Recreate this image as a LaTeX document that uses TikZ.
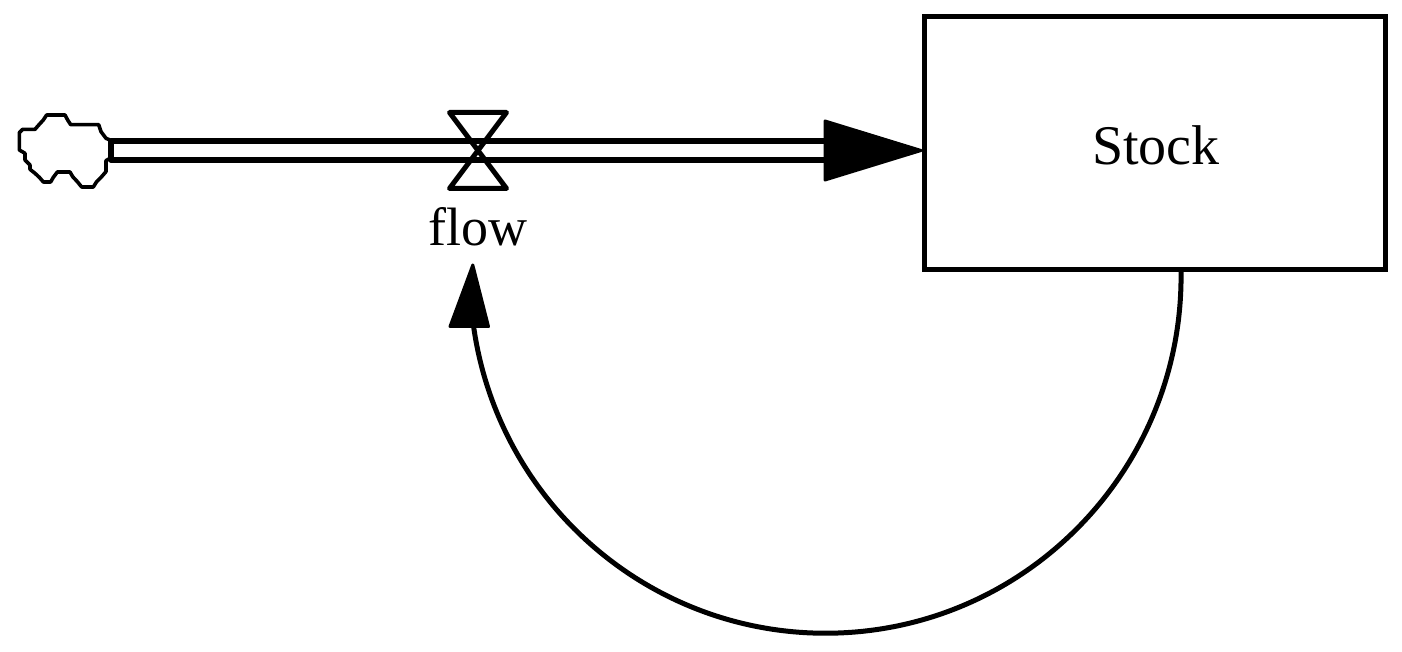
\documentclass[tikz,border=0pt]{standalone}
\usepackage{fontspec}
\setmainfont{Liberation Serif}
\tikzset{
  lbl/.style={inner sep=0pt,outer sep=0pt,font=\fontsize{54}{60}\selectfont},
  stocklbl/.style={inner sep=0pt,outer sep=0pt,font=\fontsize{56}{60}\selectfont},
  stockbox/.style={draw,line width=5pt,minimum width=461pt,minimum height=253pt,inner sep=0pt,outer sep=0pt},
  outline/.style={line width=5.5pt,line join=round},
  valveline/.style={line width=5pt,line join=round},
  headfill/.style={fill,draw,line join=round,line width=3pt}
}
\begin{document}
\begin{tikzpicture}[x=1pt,y=1pt]
\useasboundingbox (0,0) rectangle (1402,652);
\node[stockbox] (stock) at (1155,509) {};
\node[stocklbl,anchor=base] (stocktext) at (1156,487) {Stock};
\node[lbl,anchor=base] (flow) at (478,406) {flow};
\coordinate (pipeLb) at (111,492);
\coordinate (pipeLt) at (111,511);
\coordinate (pipeRb) at (826,492);
\coordinate (pipeRt) at (826,511);
\coordinate (valve) at (478,501.5);
\coordinate (headA) at (825,531);
\coordinate (headB) at (825,472);
\coordinate (headTip) at (921,501.5);
\coordinate (fbStart) at (1181,382);
\coordinate (fbL) at (450,325.5);
\coordinate (fbR) at (488.5,325.5);
\coordinate (fbTip) at (472.8,387);
\coordinate (vTL) at (449.5,539.5);
\coordinate (vTR) at (506.5,539.5);
\coordinate (vBL) at (449.5,463.5);
\coordinate (vBR) at (506.5,463.5);
% cloud
\begin{scope}[shift={(0,562)},x=0.3333pt,y=-0.3333pt]
\draw[line width=3.6pt,line join=round] (330,150)--(318,145)--(303,125)--(296,104)--(212,104)--(203,90)--(195,75)--(140,75)--(130,90)--(118,103)--(105,118)--(68,118)--(58,128)--(58,180)--(75,190)--(75,210)--(90,225)--(90,238)--(105,250)--(118,262)--(130,276)--(152,276)--(160,262)--(172,246)--(210,246)--(218,260)--(232,275)--(245,291)--(280,291)--(290,275)--(305,260)--(318,245)--(318,212)--(330,205);
\end{scope}
% pipe
\draw[outline] (pipeRt) -- (pipeLt) -- (pipeLb) -- (pipeRb);
\draw[headfill] (headA) -- (headTip) -- (headB) -- cycle;
% valve
\draw[valveline] (valve) -- (vTL) -- (vTR) -- cycle;
\draw[valveline] (valve) -- (vBL) -- (vBR) -- cycle;
% feedback
\draw[line width=5pt] (fbStart) arc[start angle=1,end angle=-172,x radius=355.5,y radius=357];
\draw[headfill] (fbL) -- (fbTip) -- (fbR) -- cycle;
\end{tikzpicture}
\end{document}
